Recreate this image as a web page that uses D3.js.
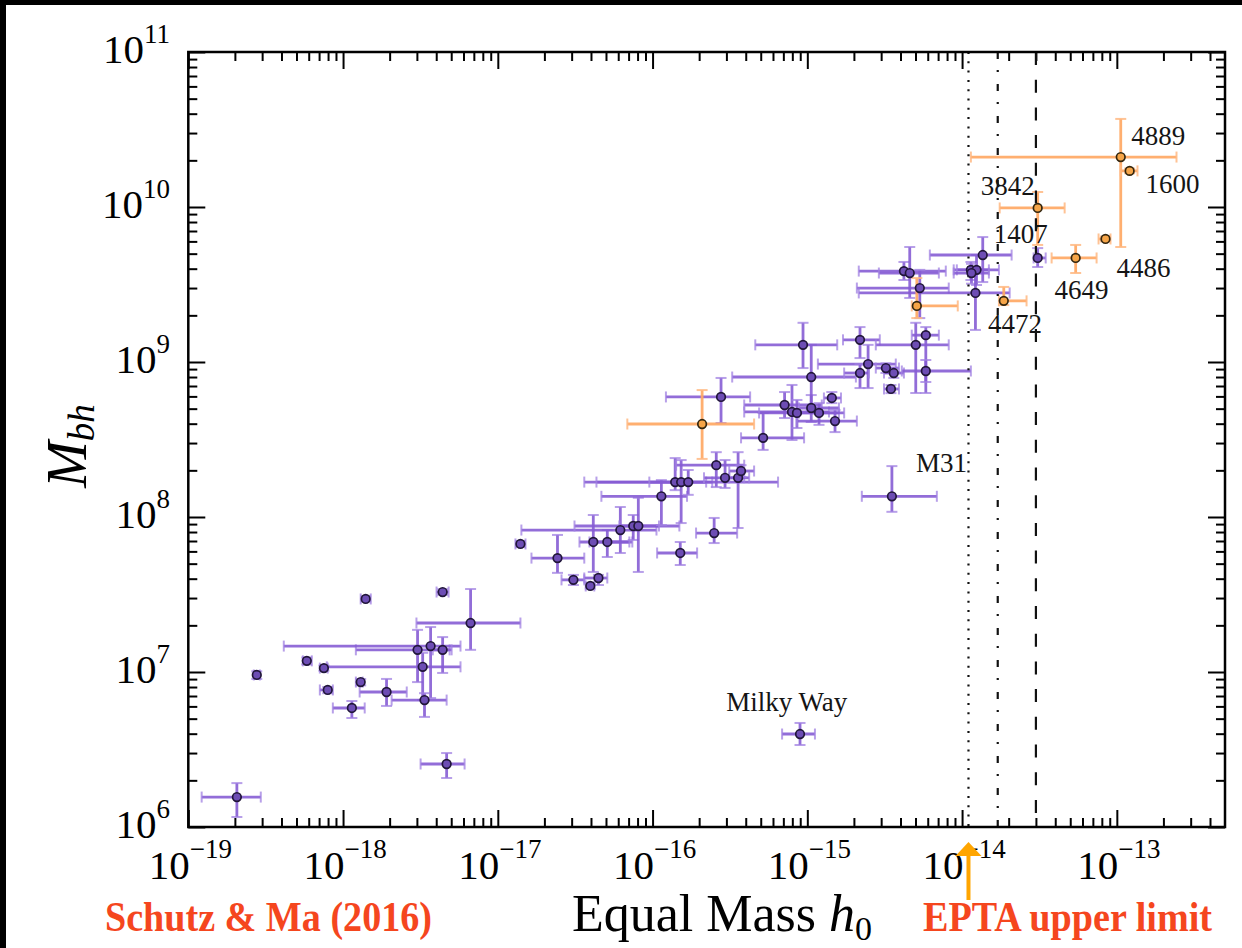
<!DOCTYPE html>
<html>
<head>
<meta charset="utf-8">
<script src="https://cdn.jsdelivr.net/npm/d3@7"></script>
<style>
  html, body { margin: 0; padding: 0; background: #fff; }
  svg { display: block; }
</style>
</head>
<body>
<svg id="chart" width="1242" height="948"></svg>
<script>
// ---- data: strain amplitude h0 and black-hole mass, each row = [value, low, high] ----
const sampleH0 = [
  [2.06e-19, 1.22e-19, 2.94e-19], [2.77e-19, 2.65e-19, 2.90e-19], [5.83e-19, 5.50e-19, 6.28e-19],
  [7.52e-19, 7.08e-19, 7.96e-19], [7.96e-19, 7.08e-19, 8.59e-19], [1.30e-18, 1.21e-18, 1.34e-18],
  [1.40e-18, 1.30e-18, 1.51e-18], [1.14e-18, 8.59e-19, 1.38e-18], [1.91e-18, 1.28e-18, 2.58e-18],
  [3.03e-18, 1.21e-18, 4.88e-18], [3.68e-18, 4.14e-19, 5.74e-18], [4.40e-18, 3.80e-18, 5.03e-18],
  [3.27e-18, 7.85e-19, 5.74e-18], [3.36e-18, 2.06e-18, 4.67e-18], [6.67e-18, 2.98e-18, 1.40e-17],
  [4.40e-18, 4.02e-18, 4.81e-18], [4.67e-18, 3.17e-18, 6.10e-18], [1.40e-17, 1.30e-17, 1.51e-17],
  [2.43e-17, 1.65e-17, 3.62e-17], [3.08e-17, 2.58e-17, 3.62e-17], [3.96e-17, 3.70e-17, 4.20e-17],
  [4.47e-17, 3.62e-17, 5.10e-17], [4.14e-17, 3.37e-17, 7.40e-17], [5.10e-17, 3.91e-17, 7.08e-17],
  [6.19e-17, 1.42e-17, 1.06e-16], [7.50e-17, 3.13e-17, 1.49e-16], [8.09e-17, 6.10e-17, 1.10e-16],
  [1.14e-16, 4.67e-17, 1.67e-16], [1.40e-16, 3.62e-17, 2.43e-16], [1.53e-16, 4.34e-17, 2.22e-16],
  [1.70e-16, 9.53e-17, 6.47e-16], [1.51e-16, 1.07e-16, 1.94e-16], [2.50e-16, 1.91e-16, 3.52e-16],
  [2.58e-16, 1.42e-16, 3.91e-16], [2.94e-16, 2.15e-16, 3.91e-16], [3.57e-16, 3.13e-16, 4.21e-16],
  [3.73e-16, 3.13e-16, 4.53e-16], [2.77e-16, 1.22e-16, 4.27e-16], [5.18e-16, 3.73e-16, 9.53e-16],
  [7.13e-16, 3.91e-16, 1.24e-15], [7.96e-16, 3.91e-16, 1.38e-15], [8.57e-16, 4.88e-16, 1.60e-15],
  [1.06e-15, 8.83e-16, 1.60e-15], [1.19e-15, 8.83e-16, 1.73e-15], [1.44e-15, 1.28e-15, 1.65e-15],
  [1.51e-15, 8.57e-16, 2.09e-15], [1.06e-15, 3.27e-16, 2.06e-15], [9.38e-16, 4.61e-16, 1.56e-15],
  [2.19e-15, 1.70e-15, 2.94e-15], [2.47e-15, 1.17e-15, 3.73e-15], [2.19e-15, 1.73e-15, 2.50e-15],
  [3.22e-15, 2.77e-15, 3.91e-15], [3.62e-15, 3.13e-15, 4.21e-15], [3.47e-15, 3.13e-15, 3.91e-15],
  [5.02e-15, 2.77e-15, 8.20e-15], [5.83e-15, 4.73e-15, 7.08e-15], [5.83e-15, 4.08e-15, 1.14e-14],
  [4.21e-15, 2.15e-15, 7.85e-15], [4.59e-15, 2.90e-15, 7.08e-15], [5.33e-15, 2.09e-15, 8.20e-15],
  [1.14e-14, 8.83e-15, 1.49e-14], [1.24e-14, 9.25e-15, 1.73e-14], [1.15e-14, 8.83e-15, 1.49e-14],
  [1.36e-14, 6.19e-15, 2.09e-14], [1.22e-14, 2.15e-15, 2.03e-14], [3.08e-14, 2.90e-14, 3.47e-14],
  [3.52e-15, 2.25e-15, 6.87e-15], [8.97e-16, 6.87e-16, 1.12e-15]
];
const sampleMbh = [
  [1.56e6, 1.16e6, 1.92e6], [9.57e6, 9.02e6, 1.01e7], [1.18e7, 1.12e7, 1.24e7],
  [1.06e7, 1.02e7, 1.10e7], [7.66e6, 7.30e6, 8.00e6], [8.61e6, 8.20e6, 9.00e6],
  [2.96e7, 2.85e7, 3.08e7], [5.86e6, 5.05e6, 6.50e6], [7.43e6, 6.04e6, 9.02e6],
  [1.39e7, 8.61e6, 1.87e7], [1.47e7, 6.79e6, 1.95e7], [1.39e7, 9.86e6, 1.68e7],
  [1.08e7, 6.60e6, 1.33e7], [6.59e6, 5.13e6, 7.30e6], [2.07e7, 1.39e7, 3.43e7],
  [3.28e7, 3.15e7, 3.42e7], [2.55e6, 2.07e6, 3.00e6], [6.70e7, 6.40e7, 7.00e7],
  [5.43e7, 4.36e7, 7.66e7], [3.93e7, 3.64e7, 4.23e7], [3.59e7, 3.45e7, 3.75e7],
  [4.04e7, 3.64e7, 4.23e7], [6.90e7, 4.42e7, 1.03e8], [6.90e7, 5.52e7, 8.24e7],
  [8.24e7, 5.86e7, 1.16e8], [8.75e7, 7.11e7, 1.03e8], [8.75e7, 4.42e7, 1.33e8],
  [1.36e8, 8.87e7, 1.73e8], [1.68e8, 1.49e8, 2.40e8], [1.68e8, 9.14e7, 2.33e8],
  [1.68e8, 1.39e8, 2.01e8], [5.86e7, 4.90e7, 6.90e7], [7.88e7, 6.79e7, 9.86e7],
  [2.16e8, 1.56e8, 2.62e8], [1.79e8, 1.54e8, 2.33e8], [1.79e8, 8.49e7, 2.62e8],
  [1.98e8, 1.81e8, 2.16e8], [5.95e8, 4.04e8, 7.89e8], [3.24e8, 2.71e8, 4.69e8],
  [5.28e8, 4.35e8, 6.40e8], [4.76e8, 3.14e8, 7.11e8], [4.69e8, 3.75e8, 5.69e8],
  [5.05e8, 4.10e8, 6.12e8], [4.69e8, 3.93e8, 5.43e8], [5.86e8, 5.43e8, 6.40e8],
  [4.16e8, 3.53e8, 4.90e8], [8.00e8, 4.90e8, 1.29e9], [1.29e9, 9.14e8, 1.79e9],
  [1.39e9, 1.06e9, 1.68e9], [9.70e8, 6.79e8, 1.29e9], [8.49e8, 6.79e8, 9.70e8],
  [9.14e8, 8.50e8, 9.80e8], [8.49e8, 7.90e8, 9.10e8], [6.70e8, 6.30e8, 7.10e8],
  [1.29e9, 6.31e8, 1.79e9], [1.49e9, 6.31e8, 1.68e9], [8.75e8, 7.43e8, 1.03e9],
  [3.86e9, 3.38e9, 4.42e9], [3.75e9, 2.59e9, 5.52e9], [3.00e9, 1.92e9, 3.93e9],
  [3.93e9, 3.38e9, 4.42e9], [3.93e9, 3.14e9, 4.90e9], [3.75e9, 3.20e9, 4.30e9],
  [4.90e9, 3.28e9, 6.40e9], [2.79e9, 1.61e9, 4.10e9], [4.69e9, 4.10e9, 5.43e9],
  [1.36e8, 1.08e8, 2.13e8], [3.98e6, 3.38e6, 4.69e6]
];
const brightH0 = [
  [2.09e-16, 6.87e-17, 4.53e-16], [5.10e-15, 4.73e-15, 9.38e-15], [1.86e-14, 1.73e-14, 2.61e-14],
  [3.08e-14, 1.75e-14, 4.60e-14], [5.42e-14, 3.79e-14, 7.40e-14], [8.45e-14, 7.62e-14, 9.10e-14],
  [1.06e-13, 1.14e-14, 2.43e-13], [1.21e-13, 1.06e-13, 1.36e-13]
];
const brightMbh = [
  [3.98e8, 2.37e8, 6.59e8], [2.30e9, 1.92e9, 3.48e9], [2.48e9, 2.33e9, 3.05e9],
  [9.86e9, 5.69e9, 1.25e10], [4.69e9, 3.75e9, 5.69e9], [6.22e9, 6.00e9, 6.45e9],
  [2.10e10, 5.52e9, 3.70e10], [1.71e10, 1.65e10, 1.77e10]
];
// named galaxies (text, h0 and mass where the label sits)
const labelText = ["4889", "1600", "3842", "1407", "4486", "4649", "4472", "M31", "Milky Way"];
const labelH0  = [1.24e-13, 1.53e-13, 1.32e-14, 1.60e-14, 9.95e-14, 3.96e-14, 1.47e-14, 5.03e-15, 2.99e-16];
const labelMbh = [2.51e10, 1.23e10, 1.19e10, 5.86e9, 3.53e9, 2.55e9, 1.54e9, 1.95e8, 5.60e6];
// pulsar-timing upper limits on h0
const limitH0 = [1.1e-14, 1.7e-14, 3.0e-14];
// tick decades
const xTickExp = [-19, -18, -17, -16, -15, -14, -13];
const yTickExp = [6, 7, 8, 9, 10, 11];

// ---- layout ----
const svg = d3.select("#chart");
const L = 188.3, R = 1225, T = 52, B = 827;
const x = d3.scaleLog().domain([1e-19, 5e-13]).range([L, R]);
const y = d3.scaleLog().domain([1e6, 1e11]).range([B, T]);
const SERIF = "'Liberation Serif', 'Times New Roman', serif";

svg.append("rect").attr("width", 1242).attr("height", 948).attr("fill", "#fff");
svg.append("rect").attr("x", 0).attr("y", 0).attr("width", 1242).attr("height", 5).attr("fill", "#000");
svg.append("rect").attr("x", 0).attr("y", 0).attr("width", 6).attr("height", 948).attr("fill", "#000");

const defs = svg.append("defs");
defs.append("filter").attr("id", "soft").attr("x", "-5%").attr("y", "-5%").attr("width", "110%").attr("height", "110%")
  .append("feGaussianBlur").attr("stdDeviation", 0.55);
defs.append("clipPath").attr("id", "plotClip").append("rect")
  .attr("x", L).attr("y", T).attr("width", R - L).attr("height", B - T);

// ---- ticks on all four sides, pointing inward ----
function minorValues(domain) {
  const out = [];
  const e0 = Math.floor(Math.log10(domain[0])), e1 = Math.ceil(Math.log10(domain[1]));
  for (let e = e0; e <= e1; e++) for (let m = 2; m <= 9; m++) {
    const v = m * Math.pow(10, e);
    if (v > domain[0] * 1.0001 && v < domain[1] * 0.9999) out.push(v);
  }
  return out;
}
const xMajor = xTickExp.map(e => Math.pow(10, e)), yMajor = yTickExp.map(e => Math.pow(10, e));
const xMinor = minorValues(x.domain()), yMinor = minorValues(y.domain());
const axes = svg.append("g").attr("class", "axes");
function drawAxis(gen, tx, ty, vals, len) {
  const g = axes.append("g").attr("transform", `translate(${tx},${ty})`)
    .call(gen.tickValues(vals).tickSize(-len).tickSizeOuter(0).tickFormat(() => ""));
  g.select(".domain").remove();
  g.selectAll(".tick line").attr("stroke", "#000").attr("stroke-width", 2);
}
[[xMajor, 17], [xMinor, 9]].forEach(([v, l]) => {
  drawAxis(d3.axisBottom(x), 0, B, v, l);
  drawAxis(d3.axisTop(x), 0, T, v, l);
});
[[yMajor, 17], [yMinor, 9]].forEach(([v, l]) => {
  drawAxis(d3.axisLeft(y), L, 0, v, l);
  drawAxis(d3.axisRight(y), R, 0, v, l);
});

// ---- error bars ----
const bars = svg.append("g").attr("clip-path", "url(#plotClip)").attr("filter", "url(#soft)");
function errorBars(hRows, mRows, color, capColor) {
  const g = bars.append("g");
  hRows.forEach((h, i) => {
    const m = mRows[i];
    const cx = x(h[0]), cy = y(m[0]);
    const xl = x(h[1]), xh = x(h[2]), yl = y(m[1]), yh = y(m[2]);
    g.append("line").attr("x1", xl).attr("x2", xh).attr("y1", cy).attr("y2", cy)
      .attr("stroke", color).attr("stroke-width", 2.8);
    g.append("line").attr("x1", cx).attr("x2", cx).attr("y1", yl).attr("y2", yh)
      .attr("stroke", color).attr("stroke-width", 2.8);
    [xl, xh].forEach(px => g.append("line").attr("x1", px).attr("x2", px)
      .attr("y1", cy - 5.5).attr("y2", cy + 5.5).attr("stroke", capColor).attr("stroke-width", 2));
    [yl, yh].forEach(py => g.append("line").attr("y1", py).attr("y2", py)
      .attr("x1", cx - 5.5).attr("x2", cx + 5.5).attr("stroke", capColor).attr("stroke-width", 2));
  });
}
errorBars(sampleH0, sampleMbh, "rgba(134,92,212,0.9)", "rgba(160,128,226,0.75)");
errorBars(brightH0, brightMbh, "rgba(255,168,100,0.92)", "rgba(255,185,130,0.85)");

// ---- upper-limit lines ----
const limitDash = ["2,7.3", "7,11,2,12", "13,14.7"];
svg.append("g").selectAll("line").data(limitH0).join("line")
  .attr("x1", d => x(d)).attr("x2", d => x(d)).attr("y1", T).attr("y2", B)
  .attr("stroke", "#111").attr("stroke-width", 2.2)
  .attr("stroke-dasharray", (d, i) => limitDash[i]);

// ---- markers ----
const pts = svg.append("g");
pts.selectAll("circle.s").data(sampleH0).join("circle").attr("class", "s")
  .attr("cx", d => x(d[0])).attr("cy", (d, i) => y(sampleMbh[i][0])).attr("r", 4.3)
  .attr("fill", "#6d4db4").attr("stroke", "#21163a").attr("stroke-width", 1.7);
pts.selectAll("circle.b").data(brightH0).join("circle").attr("class", "b")
  .attr("cx", d => x(d[0])).attr("cy", (d, i) => y(brightMbh[i][0])).attr("r", 4.3)
  .attr("fill", "#f6a548").attr("stroke", "#33260f").attr("stroke-width", 1.7);

// ---- frame ----
svg.append("rect").attr("x", L).attr("y", T).attr("width", R - L).attr("height", B - T)
  .attr("fill", "none").attr("stroke", "#000").attr("stroke-width", 2.5);

// ---- galaxy labels ----
svg.append("g").selectAll("text").data(labelText).join("text")
  .attr("x", (d, i) => x(labelH0[i])).attr("y", (d, i) => y(labelMbh[i]))
  .attr("font-family", SERIF).attr("font-size", 27).attr("fill", "#151515")
  .text(d => d);

// ---- tick labels ----
const xl = svg.append("g").attr("font-family", SERIF).attr("fill", "#000");
xTickExp.forEach(e => {
  const t = xl.append("text").attr("x", x(Math.pow(10, e)) + 2).attr("y", 879)
    .attr("text-anchor", "middle").attr("font-size", 41);
  t.append("tspan").text("10");
  t.append("tspan").attr("dy", -21).attr("font-size", 27).text("\u2212" + Math.abs(e));
});
yTickExp.forEach(e => {
  const t = xl.append("text").attr("x", 170).attr("y", y(Math.pow(10, e)) + 11)
    .attr("text-anchor", "end").attr("font-size", 41);
  t.append("tspan").text("10");
  t.append("tspan").attr("dy", -20).attr("font-size", 27).text(String(e));
});

// ---- axis titles ----
const xt = svg.append("text").attr("x", 722).attr("y", 931).attr("text-anchor", "middle")
  .attr("font-family", SERIF).attr("font-size", 52).attr("fill", "#000");
xt.append("tspan").text("Equal Mass ");
xt.append("tspan").attr("font-style", "italic").text("h");
xt.append("tspan").attr("dy", 9).attr("font-size", 34).text("0");

const yt = svg.append("text").attr("transform", "translate(86,446) rotate(-90)")
  .attr("text-anchor", "middle").attr("font-family", SERIF).attr("font-size", 56)
  .attr("font-style", "italic").attr("fill", "#000");
yt.append("tspan").text("M");
yt.append("tspan").attr("dy", 8).attr("font-size", 37).text("bh");

// ---- credits and arrow ----
const red = "#f5461e";
svg.append("text").attr("x", 105).attr("y", 931).attr("font-family", SERIF)
  .attr("font-weight", "bold").attr("font-size", 42).attr("fill", red)
  .attr("textLength", 327).attr("lengthAdjust", "spacingAndGlyphs").text("Schutz & Ma (2016)");
svg.append("text").attr("x", 923).attr("y", 931).attr("font-family", SERIF)
  .attr("font-weight", "bold").attr("font-size", 42).attr("fill", red)
  .attr("textLength", 289).attr("lengthAdjust", "spacingAndGlyphs").text("EPTA upper limit");

const ax = x(limitH0[0]);
svg.append("line").attr("x1", ax).attr("x2", ax).attr("y1", 900).attr("y2", 852)
  .attr("stroke", "#ffa500").attr("stroke-width", 4);
svg.append("path").attr("d", `M${ax - 13},${856} L${ax + 13},${856} L${ax},${842} Z`).attr("fill", "#ffa500");
</script>
</body>
</html>
